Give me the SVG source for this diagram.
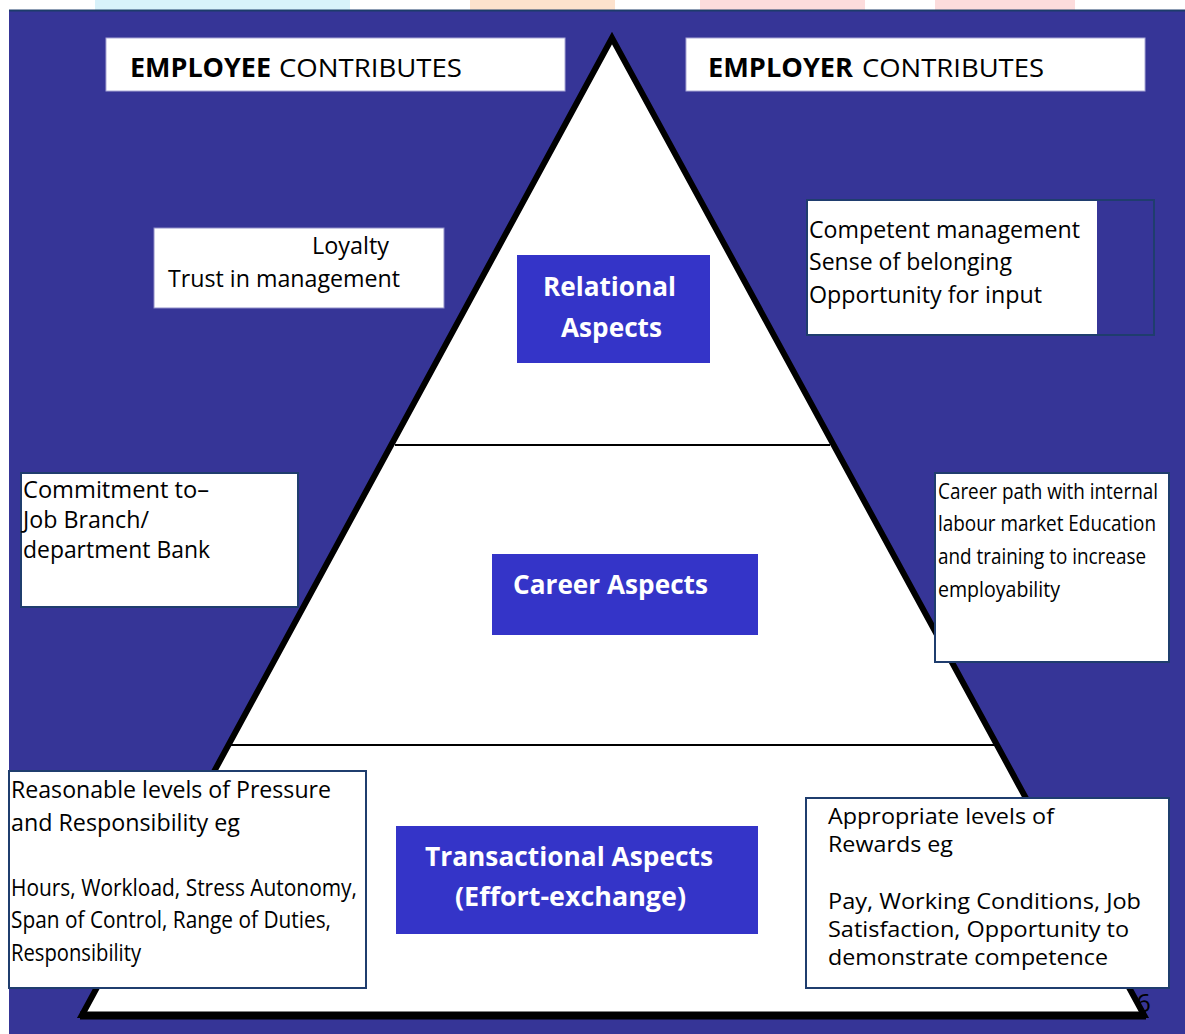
<svg xmlns="http://www.w3.org/2000/svg" width="1185" height="1034" viewBox="0 0 1185 1034">
<style>
.panel{fill:#363597}
.hdr{fill:#ffffff;stroke:#a9a8d6;stroke-width:1}
.box{fill:#ffffff;stroke:#1f3d6e;stroke-width:2}
.wbox{fill:#ffffff;stroke:#8f8ec8;stroke-width:1}
.blue{fill:#3434c8}
.t{font-family:"Open Sans","Liberation Sans",sans-serif;font-size:23px;fill:#000000}
.s{font-family:"Open Sans","Liberation Sans",sans-serif;font-size:22px;fill:#000000}
.h{font-family:"Open Sans","Liberation Sans",sans-serif;font-size:26px;fill:#000000}
.hb{font-family:"Open Sans","Liberation Sans",sans-serif;font-size:26px;font-weight:bold;fill:#000000}
.w{font-family:"Open Sans","Liberation Sans",sans-serif;font-size:27px;font-weight:bold;fill:#ffffff}
.div{stroke:#000000;stroke-width:2}
</style>
<g id="top-strip">
<rect x="0" y="0" width="1185" height="11" fill="#ffffff"/>
<rect x="95" y="0" width="255" height="11" fill="#d8f2fa"/>
<rect x="470" y="0" width="145" height="11" fill="#fde2cd"/>
<rect x="700" y="0" width="165" height="11" fill="#fcdcdc"/>
<rect x="935" y="0" width="140" height="11" fill="#fcdcdc"/>
</g>
<g id="background">
<rect class="panel" x="9" y="10" width="1176" height="1024"/>
<line x1="9" y1="10.5" x2="1185" y2="10.5" stroke="#1d3c6b" stroke-width="2"/>
</g>
<g id="pyramid">
<polygon points="612,38 82,1015 1144,1015" fill="#ffffff" stroke="#000000" stroke-width="6" stroke-linejoin="miter"/>
<line x1="80" y1="1015.5" x2="1146" y2="1015.5" stroke="#000000" stroke-width="8"/>
</g>
<g id="connectors">
<line class="div" x1="395" y1="445" x2="830" y2="445"/>
<line class="div" x1="229" y1="745" x2="997" y2="745"/>
</g>
<g id="employee-header">
<rect class="hdr" x="106" y="38" width="459" height="53"/>
<text class="hb" x="130" y="77" textLength="141" lengthAdjust="spacingAndGlyphs">EMPLOYEE</text>
<text class="h" x="279" y="77" textLength="183" lengthAdjust="spacingAndGlyphs">CONTRIBUTES</text>
</g>
<g id="employer-header">
<rect class="hdr" x="686" y="38" width="459" height="53"/>
<text class="hb" x="708" y="77" textLength="145" lengthAdjust="spacingAndGlyphs">EMPLOYER</text>
<text class="h" x="862" y="77" textLength="182" lengthAdjust="spacingAndGlyphs">CONTRIBUTES</text>
</g>
<g id="loyalty">
<rect class="wbox" x="154" y="228" width="290" height="80"/>
<text class="t" x="312" y="254" textLength="77" lengthAdjust="spacingAndGlyphs">Loyalty</text>
<text class="t" x="168" y="287" textLength="232" lengthAdjust="spacingAndGlyphs">Trust in management</text>
</g>
<g id="relational">
<rect class="blue" x="517" y="255" width="193" height="108"/>
<text class="w" x="543" y="296" textLength="133" lengthAdjust="spacingAndGlyphs">Relational</text>
<text class="w" x="561" y="337" textLength="101" lengthAdjust="spacingAndGlyphs">Aspects</text>
</g>
<g id="employer-relational">
<rect x="807" y="200" width="347" height="135" fill="#363597" stroke="#1f3d6e" stroke-width="2"/>
<rect x="808" y="201" width="289" height="133" fill="#ffffff"/>
<text class="t" x="809" y="238" textLength="271" lengthAdjust="spacingAndGlyphs">Competent management</text>
<text class="t" x="809" y="270" textLength="203" lengthAdjust="spacingAndGlyphs">Sense of belonging</text>
<text class="t" x="809" y="303" textLength="233" lengthAdjust="spacingAndGlyphs">Opportunity for input</text>
</g>
<g id="commitment">
<rect class="box" x="21" y="473" width="277" height="134"/>
<text class="t" x="23" y="498" textLength="186" lengthAdjust="spacingAndGlyphs">Commitment to–</text>
<text class="t" x="23" y="528" textLength="126" lengthAdjust="spacingAndGlyphs">Job Branch/</text>
<text class="t" x="23" y="558" textLength="187" lengthAdjust="spacingAndGlyphs">department Bank</text>
</g>
<g id="career">
<rect class="blue" x="492" y="554" width="266" height="81"/>
<text class="w" x="513" y="594" textLength="195" lengthAdjust="spacingAndGlyphs">Career Aspects</text>
</g>
<g id="career-path">
<rect class="box" x="935" y="473" width="234" height="189"/>
<text class="s" x="938" y="499" textLength="220" lengthAdjust="spacingAndGlyphs">Career path with internal</text>
<text class="s" x="938" y="531" textLength="218" lengthAdjust="spacingAndGlyphs">labour market Education</text>
<text class="s" x="938" y="564" textLength="208" lengthAdjust="spacingAndGlyphs">and training to increase</text>
<text class="s" x="938" y="597" textLength="122" lengthAdjust="spacingAndGlyphs">employability</text>
</g>
<g id="pressure">
<rect class="box" x="9" y="771" width="357" height="217"/>
<text class="t" x="11" y="798" textLength="320" lengthAdjust="spacingAndGlyphs">Reasonable levels of Pressure</text>
<text class="t" x="11" y="831" textLength="229" lengthAdjust="spacingAndGlyphs">and Responsibility eg</text>
<text class="t" x="11" y="896" textLength="346" lengthAdjust="spacingAndGlyphs">Hours, Workload, Stress Autonomy,</text>
<text class="t" x="11" y="928" textLength="320" lengthAdjust="spacingAndGlyphs">Span of Control, Range of Duties,</text>
<text class="t" x="11" y="961" textLength="130" lengthAdjust="spacingAndGlyphs">Responsibility</text>
</g>
<g id="transactional">
<rect class="blue" x="396" y="826" width="362" height="108"/>
<text class="w" x="425" y="866" textLength="288" lengthAdjust="spacingAndGlyphs">Transactional Aspects</text>
<text class="w" x="455" y="906" textLength="231" lengthAdjust="spacingAndGlyphs">(Effort-exchange)</text>
</g>
<g id="rewards">
<rect class="box" x="806" y="798" width="363" height="190"/>
<text class="s" x="828" y="824" textLength="226" lengthAdjust="spacingAndGlyphs">Appropriate levels of</text>
<text class="s" x="828" y="852" textLength="125" lengthAdjust="spacingAndGlyphs">Rewards eg</text>
<text class="s" x="828" y="909" textLength="313" lengthAdjust="spacingAndGlyphs">Pay, Working Conditions, Job</text>
<text class="s" x="828" y="937" textLength="301" lengthAdjust="spacingAndGlyphs">Satisfaction, Opportunity to</text>
<text class="s" x="828" y="965" textLength="280" lengthAdjust="spacingAndGlyphs">demonstrate competence</text>
</g>
<g id="page-number">
<text class="h" x="1136" y="1012">6</text>
</g>
</svg>
